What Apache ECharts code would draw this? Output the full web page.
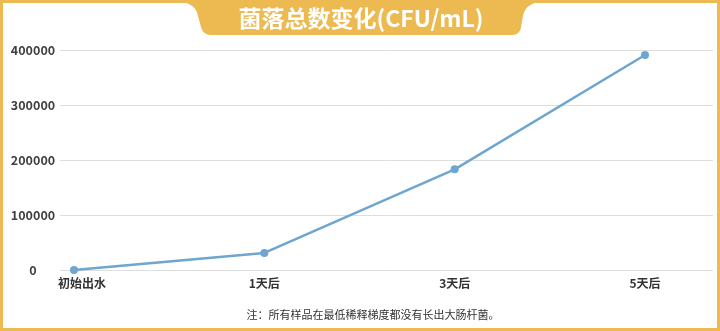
<!DOCTYPE html>
<html>
<head>
<meta charset="utf-8">
<script src="https://cdn.jsdelivr.net/npm/echarts@6/dist/echarts.min.js"></script>
<style>
  html, body { margin: 0; padding: 0; background: #ffffff; }
  #chart { width: 720px; height: 331px; }
</style>
</head>
<body>
<div id="chart"></div>
<script>
// Sampling points and total colony counts (CFU/mL)
const categories = ['初始出水', '1天后', '3天后', '5天后'];
const colonyCounts = [0, 31000, 183000, 391000];
const yTicks = [0, 100000, 200000, 300000, 400000];

const titleText = '菌落总数变化(CFU/mL)';
const noteText = '注：所有样品在最低稀释梯度都没有长出大肠杆菌。';

const gold = '#EDBA52';
const font = '"Noto Sans CJK SC", "Noto Sans", sans-serif';

// Outline of the title tab: flared top corners, rounded bottom corners.
function cubic(p0, p1, p2, p3, n) {
  const pts = [];
  for (let i = 1; i <= n; i++) {
    const t = i / n, u = 1 - t;
    pts.push([
      u * u * u * p0[0] + 3 * u * u * t * p1[0] + 3 * u * t * t * p2[0] + t * t * t * p3[0],
      u * u * u * p0[1] + 3 * u * u * t * p1[1] + 3 * u * t * t * p2[1] + t * t * t * p3[1]
    ]);
  }
  return pts;
}
function quad(p0, p1, p2, n) {
  const pts = [];
  for (let i = 1; i <= n; i++) {
    const t = i / n, u = 1 - t;
    pts.push([
      u * u * p0[0] + 2 * u * t * p1[0] + t * t * p2[0],
      u * u * p0[1] + 2 * u * t * p1[1] + t * t * p2[1]
    ]);
  }
  return pts;
}
const tabPoints = [[172, 0], [550, 0]]
  .concat(cubic([550, 0], [532, 2], [525, 6], [523, 16], 12))
  .concat([[521, 27]])
  .concat(quad([521, 27], [520, 35], [511, 35], 8))
  .concat([[212, 35]])
  .concat(quad([212, 35], [203, 35], [201, 27], 8))
  .concat([[198, 16]])
  .concat(cubic([198, 16], [196, 6], [189, 2], [172, 0], 12));

const chart = echarts.init(document.getElementById('chart'), null, { renderer: 'canvas' });

chart.setOption({
  backgroundColor: '#ffffff',
  animation: false,
  grid: [
    // wide grid carrying the horizontal guide lines and value labels
    { left: 60, right: 7, top: 50, bottom: 61 },
    // inner grid where the categories sit
    { left: 74, right: 75, top: 50, bottom: 61 }
  ],
  xAxis: [
    { type: 'value', gridIndex: 0, show: false, min: 0, max: 1 },
    {
      type: 'category', gridIndex: 1, data: categories, boundaryGap: false,
      axisLine: { show: false }, axisTick: { show: false },
      axisLabel: {
        margin: 7, color: '#333', fontSize: 12, fontWeight: 'bold', fontFamily: font,
        formatter: function (v, i) { return i === 0 ? '{first|' + v + '}' : v; },
        rich: { first: { padding: [0, 0, 0, 16], color: '#333', fontSize: 12, fontWeight: 'bold', fontFamily: font } }
      }
    }
  ],
  yAxis: [
    {
      type: 'value', gridIndex: 0,
      min: yTicks[0], max: yTicks[yTicks.length - 1], interval: yTicks[1] - yTicks[0],
      axisLine: { show: false }, axisTick: { show: false },
      splitLine: { lineStyle: { color: '#dedede', width: 1 } },
      axisLabel: {
        margin: 27, align: 'center', color: '#404040', fontSize: 12.5, fontWeight: 'bold', fontFamily: font,
        formatter: function (v) { return String(v); }
      }
    },
    {
      type: 'value', gridIndex: 1, show: false,
      min: yTicks[0], max: yTicks[yTicks.length - 1],
      splitLine: { show: false }
    }
  ],
  series: [{
    type: 'line',
    xAxisIndex: 1, yAxisIndex: 1,
    data: colonyCounts,
    symbol: 'circle', symbolSize: 8,
    lineStyle: { color: '#6ea6cf', width: 2.5 },
    itemStyle: { color: '#6ea6cf' }
  }],
  graphic: [
    // frame
    {
      type: 'rect', silent: true, z: 10,
      shape: { x: 1.5, y: 1.5, width: 717, height: 328 },
      style: { fill: 'none', stroke: gold, lineWidth: 3 }
    },
    // title tab hanging from the top edge
    {
      type: 'polygon', silent: true, z: 11,
      shape: { points: tabPoints },
      style: { fill: gold }
    },
    {
      type: 'text', silent: true, z: 12,
      x: 361, y: 18,
      style: {
        text: titleText, fill: '#ffffff', fontSize: 23, fontWeight: 'bold', fontFamily: font,
        align: 'center', verticalAlign: 'middle'
      }
    },
    {
      type: 'text', silent: true, z: 12,
      x: 373, y: 315,
      style: {
        text: noteText, fill: '#333', fontSize: 11, fontFamily: font,
        align: 'center', verticalAlign: 'middle'
      }
    }
  ]
});
</script>
</body>
</html>
